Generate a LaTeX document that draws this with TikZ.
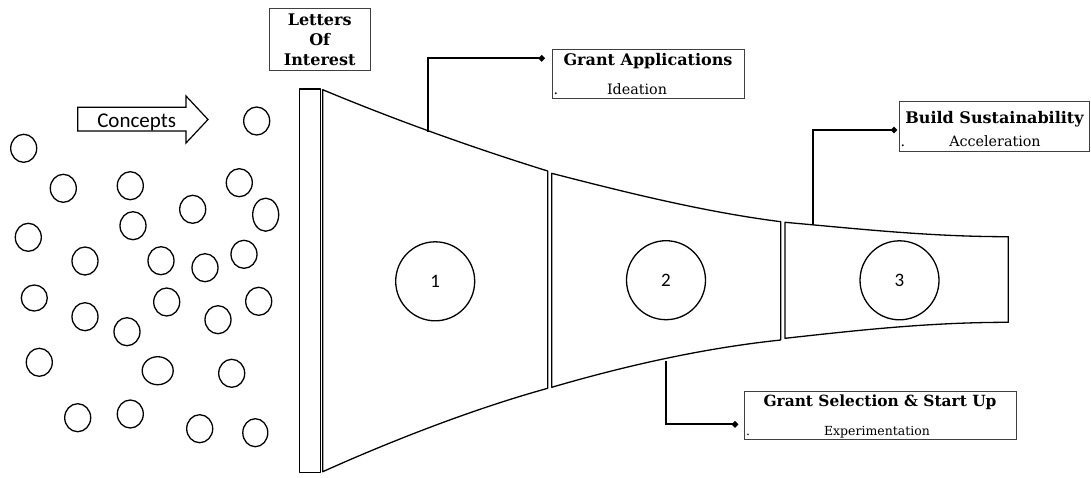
\documentclass[tikz,border=0pt]{standalone}
\usepackage{fontspec}
\setmainfont{DejaVu Serif}
\newfontfamily\wserif{DejaVu Serif}
\newfontfamily\calfont{Carlito}
\usetikzlibrary{arrows.meta}
\begin{document}
\begin{tikzpicture}[x=1pt,y=-1pt,
  fun/.style={draw=black, line width=1.3pt, line join=round},
  conn/.style={draw=black, line width=2.2pt, -{Circle[length=6pt,width=6pt]}},
  tbox/.style={draw=black!75, line width=1pt, inner sep=0pt, rectangle},
  bt/.style={font=\wserif\bfseries\fontsize{16}{20}\selectfont, inner sep=0pt, anchor=base},
  rt/.style={font=\wserif\fontsize{14.3}{18}\selectfont, inner sep=0pt, anchor=base},
  bts/.style={font=\wserif\bfseries\fontsize{15.4}{18}\selectfont, inner sep=0pt, anchor=base},
  rts/.style={font=\wserif\fontsize{12.5}{16}\selectfont, inner sep=0pt, anchor=base},
  num/.style={draw=black, circle, line width=1.3pt, minimum size=79pt, inner sep=0pt, font=\calfont\fontsize{19}{22}\selectfont},
  bubble/.style={draw=black, line width=1.3pt}]
\useasboundingbox (0,0) rectangle (1091,477);

% concept bubbles
\foreach \x/\y/\rx/\ry in {23.7/148.3/13/14, 256.7/121/13/14, 63.3/188.3/13/14, 130.3/185.7/13/14,
  239.3/182.7/13/14, 192.7/209.3/13/14, 265.7/214.7/13/16.5, 28.3/237.3/13/14, 133/225.7/13/14,
  85/261/13/14, 161/260.7/13/14, 205/267.7/13/14, 244/254.3/13/14, 34.3/298/13/13,
  85/316.7/13/14, 127/331.7/13/14, 166.7/302/13/14, 218/319.7/13/14, 258.7/301.3/13/14,
  39.3/362.3/13/14, 157.7/370.7/15.5/14, 231.7/373.3/13/14, 77.7/417.7/13/14, 130.3/414/13/14,
  199.7/428.7/13/14, 255.3/432.7/12.5/14}
  \draw[bubble] (\x,\y) ellipse[x radius=\rx, y radius=\ry];

% Concepts arrow
\draw[bubble, line width=1.2pt] (77.7,107.3) -- (186,107.3) -- (186,96) -- (208,119.5) -- (186,143)
  -- (186,131) -- (77.7,131) -- cycle;
\node[font=\calfont\fontsize{21}{24}\selectfont, inner sep=0pt, anchor=base] (concepts) at (136.7,127) {Concepts};

% Letters of Interest
\node[tbox, minimum width=100.7pt, minimum height=61.7pt] (loibox) at (319.65,39.15) {};
\node[bt] (loi1) at (319.7,25) {Letters};
\node[bt] (loi2) at (319.7,45) {Of};
\node[bt] (loi3) at (319.7,65) {Interest};

% funnel bar
\draw[fun] (299.3,89) rectangle (320.7,472.3);

% section 1
\draw[fun] (322.7,89.7) .. controls (400,122) and (480,150) .. (547.7,171) -- (547.7,388.3)
  .. controls (480,407) and (400,437) .. (322.7,471.7) -- cycle;
% section 2
\draw[fun] (551.7,173.3) .. controls (628,193) and (705,212) .. (780.7,221.7) -- (780.7,340)
  .. controls (705,348) and (628,365) .. (551.7,387.3) -- cycle;
% section 3
\draw[fun] (785,222.3) .. controls (860,229) and (930,236.7) .. (1008.3,236.7) -- (1008.3,322.3)
  .. controls (930,322.3) and (860,330) .. (785,338.3) -- cycle;

\node[num] (n1) at (435.2,281.3) {1};
\node[num] (n2) at (666,280.2) {2};
\node[num] (n3) at (899.5,280.3) {3};

% anchor points on funnel
\coordinate (p1) at (427.7,131.5);
\coordinate (p2) at (665.7,360.5);
\coordinate (p3) at (813.3,224.5);
\coordinate (d1) at (544.7,58.3);
\coordinate (d2) at (738,424.3);
\coordinate (d3) at (897,130);

% text boxes
\node[tbox, minimum width=191.7pt, minimum height=49pt] (gabox) at (648.2,73.8) {};
\node[bt] (gat) at (648,65) {Grant Applications};
\node[rt] (gas) at (637,94.3) {Ideation};
\node[rt, anchor=base west] (gad) at (553.3,94.3) {.};

\node[tbox, minimum width=190pt, minimum height=49.3pt] (bsbox) at (994,126.35) {};
\node[bt] (bst) at (994.5,123.3) {Build Sustainability};
\node[rt] (bss) at (995,146.7) {Acceleration};
\node[rt, anchor=base west] (bsd) at (900.5,146.7) {.};

\node[tbox, minimum width=271.7pt, minimum height=47.6pt] (gsbox) at (880.2,415.5) {};
\node[bts] (gst) at (880,406.7) {Grant Selection \& Start Up};
\node[rts] (gss) at (877,435) {Experimentation};
\node[rts, anchor=base west] (gsd) at (745.8,435) {.};

% connectors
\draw[conn] (p1) |- (d1);
\draw[conn] (p3) |- (d3);
\draw[conn] (p2) |- (d2);
\end{tikzpicture}
\end{document}
